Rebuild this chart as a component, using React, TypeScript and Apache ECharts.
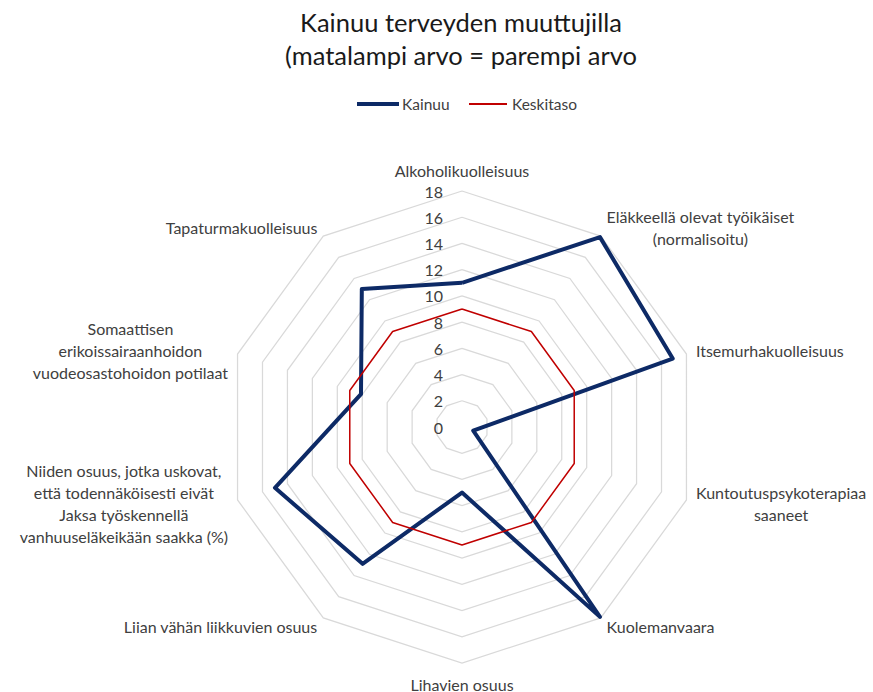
import React, { useEffect, useRef } from "react";
import * as echarts from "echarts";

const titleLines = ["Kainuu terveyden muuttujilla", "(matalampi arvo = parempi arvo"];
const seriesNames = ["Kainuu", "Keskitaso"];
const indicatorNames = [
  "Alkoholikuolleisuus",
  "Eläkkeellä olevat työikäiset\n(normalisoitu)",
  "Itsemurhakuolleisuus",
  "Kuntoutuspsykoterapiaa\nsaaneet",
  "Kuolemanvaara",
  "Lihavien osuus",
  "Liian vähän liikkuvien osuus",
  "Niiden osuus, jotka uskovat,\nettä todennäköisesti eivät\nJaksa työskennellä\nvanhuuseläkeikään saakka (%)",
  "Somaattisen\nerikoissairaanhoidon\nvuodeosastohoidon potilaat",
  "Tapaturmakuolleisuus",
];
const kainuuValues = [11.0, 17.9, 16.9, 0.9, 17.9, 5.0, 12.9, 15.0, 8.1, 13.0];
const keskitasoValues = [9, 9, 9, 9, 9, 9, 9, 9, 9, 9];
const axisMax = 18;
const axisSplits = 9;

const FONT = "Lato, 'Open Sans', sans-serif";
const TEXT = "#404040";
const NAVY = "#0d2a66";
const RED = "#c00000";

// ECharts lays radar indicators counter-clockwise; reverse (keeping the first) for clockwise order
const order = indicatorNames.map((_, i) => (i === 0 ? 0 : indicatorNames.length - i));

export default function App() {
  const ref = useRef<HTMLDivElement>(null);
  useEffect(() => {
    if (!ref.current) return;
    const chart = echarts.init(ref.current, null, { renderer: "svg" });
    chart.setOption({
      animation: false,
      backgroundColor: "#ffffff",
      title: {
        text: titleLines.join("\n"),
        left: 461,
        textAlign: "center",
        top: 5,
        padding: 0,
        textStyle: {
          fontFamily: FONT,
          fontSize: 25.5,
          fontWeight: "normal",
          color: "#1a1a1a",
          lineHeight: 33,
        },
      },
      legend: [
        {
          data: [seriesNames[0]],
          left: 352,
          top: 91,
          icon: "rect",
          itemWidth: 42,
          itemHeight: 4,
          itemGap: 4,
          textStyle: { fontFamily: FONT, fontSize: 15.5, color: TEXT, padding: [0, 0, 0, -2] },
        },
        {
          data: [seriesNames[1]],
          left: 464,
          top: 91,
          icon: "rect",
          itemWidth: 38,
          itemHeight: 2,
          textStyle: { fontFamily: FONT, fontSize: 15.5, color: TEXT },
        },
      ],
      radar: {
        center: [462, 427],
        radius: 236,
        startAngle: 90,
        splitNumber: axisSplits,
        shape: "polygon",
        indicator: order.map((k, i) =>
          i === 0
            ? { name: indicatorNames[k], min: 0, max: axisMax, axisLabel: { show: true } }
            : { name: indicatorNames[k], min: 0, max: axisMax }
        ),
        axisName: {
          formatter: (name: string) =>
            name
              .split("\n")
              .map((l) => `{c|${l}}`)
              .join("\n"),
          color: TEXT,
          fontFamily: FONT,
          fontSize: 16,
          rich: {
            c: {
              align: "center",
              color: TEXT,
              fontFamily: FONT,
              fontSize: 16,
              lineHeight: 22,
            },
          },
        },
        nameGap: 10,
        axisLine: { show: false },
        axisTick: { show: false },
        splitArea: { show: false },
        splitLine: { lineStyle: { color: "#d9d9d9", width: 1.25 } },
        axisLabel: {
          show: false,
          showMinLabel: true,
          showMaxLabel: true,
          margin: 19,
          fontFamily: FONT,
          fontSize: 16,
          color: TEXT,
        },
      },
      series: [
        {
          type: "radar",
          symbol: "none",
          data: [
            {
              name: seriesNames[0],
              value: order.map((k) => kainuuValues[k]),
              lineStyle: { color: NAVY, width: 4 },
              itemStyle: { color: NAVY },
            },
            {
              name: seriesNames[1],
              value: order.map((k) => keskitasoValues[k]),
              lineStyle: { color: RED, width: 1.5 },
              itemStyle: { color: RED },
            },
          ],
        },
      ],
    });
    return () => chart.dispose();
  }, []);
  return (
    <div
      ref={ref}
      style={{ position: "fixed", left: 0, top: 0, width: 873, height: 692 }}
    />
  );
}
